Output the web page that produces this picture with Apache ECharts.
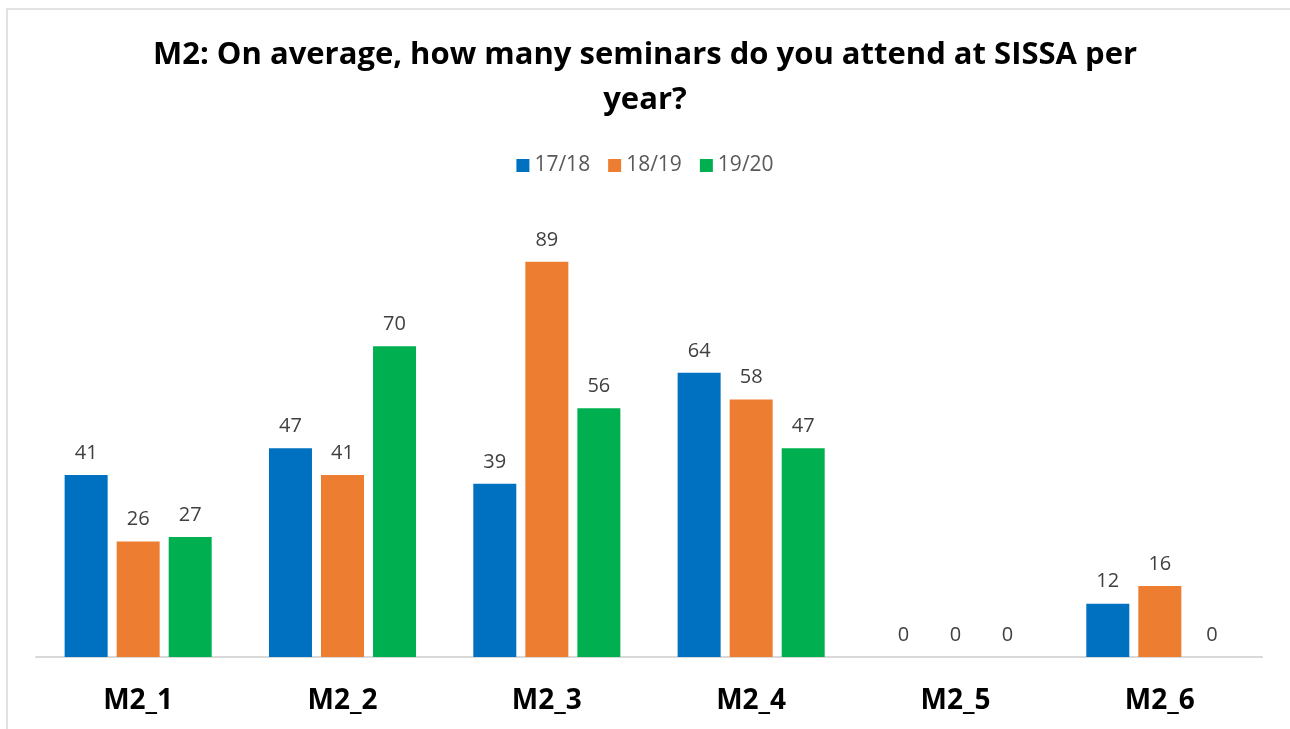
<!DOCTYPE html>
<html><head><meta charset="utf-8">
<script src="https://cdn.jsdelivr.net/npm/echarts@6/dist/echarts.min.js"></script>
<style>html,body{margin:0;padding:0;background:#fff}#c{width:1290px;height:729px}</style>
</head><body><div id="c"></div>
<script>
const categories = ['M2_1','M2_2','M2_3','M2_4','M2_5','M2_6'];
const s1718 = [41,47,39,64,0,12];
const s1819 = [26,41,89,58,0,16];
const s1920 = [27,70,56,47,0,0];
const seriesNames = ['17/18','18/19','19/20'];
const colors = ['#0070C0','#ED7D31','#00B050'];
const font = 'Open Sans';
const chart = echarts.init(document.getElementById('c'));
const mk = (name, data, color) => ({
  name, type: 'bar', data, barWidth: 43, barGap: '21%',
  itemStyle: {color},
  label: {show: true, position: 'top', distance: 12, color: '#404040', fontSize: 20, fontFamily: font}
});
chart.setOption({
  animation: false,
  graphic: [{type:'rect', shape:{x:7,y:9,width:1300,height:740}, style:{fill:'none', stroke:'#d9d9d9', lineWidth:1.5}, silent:true}],
  title: {
    text: 'M2: On average, how many seminars do you attend at SISSA per\nyear?',
    left: 'center', top: 28,
    textStyle: {fontFamily: font, fontWeight: 'bold', fontSize: 31, color: '#000', lineHeight: 45}
  },
  legend: {
    data: seriesNames, top: 150, left: 'center', itemWidth: 13, itemHeight: 13, itemGap: 18,
    icon: 'rect',
    textStyle: {fontFamily: font, fontSize: 21, color: '#595959'}
  },
  grid: {left: 36, right: 28, top: 213, bottom: 72},
  xAxis: {
    type: 'category', data: categories,
    axisLine: {lineStyle: {color: '#d9d9d9', width: 2}},
    axisTick: {show: false},
    axisLabel: {fontFamily: font, fontWeight: 'bold', fontSize: 28, color: '#000', margin: 30}
  },
  yAxis: {type: 'value', min: 0, max: 100, show: false, splitLine: {show: false}},
  series: [mk(seriesNames[0], s1718, colors[0]), mk(seriesNames[1], s1819, colors[1]), mk(seriesNames[2], s1920, colors[2])]
});
</script></body></html>
